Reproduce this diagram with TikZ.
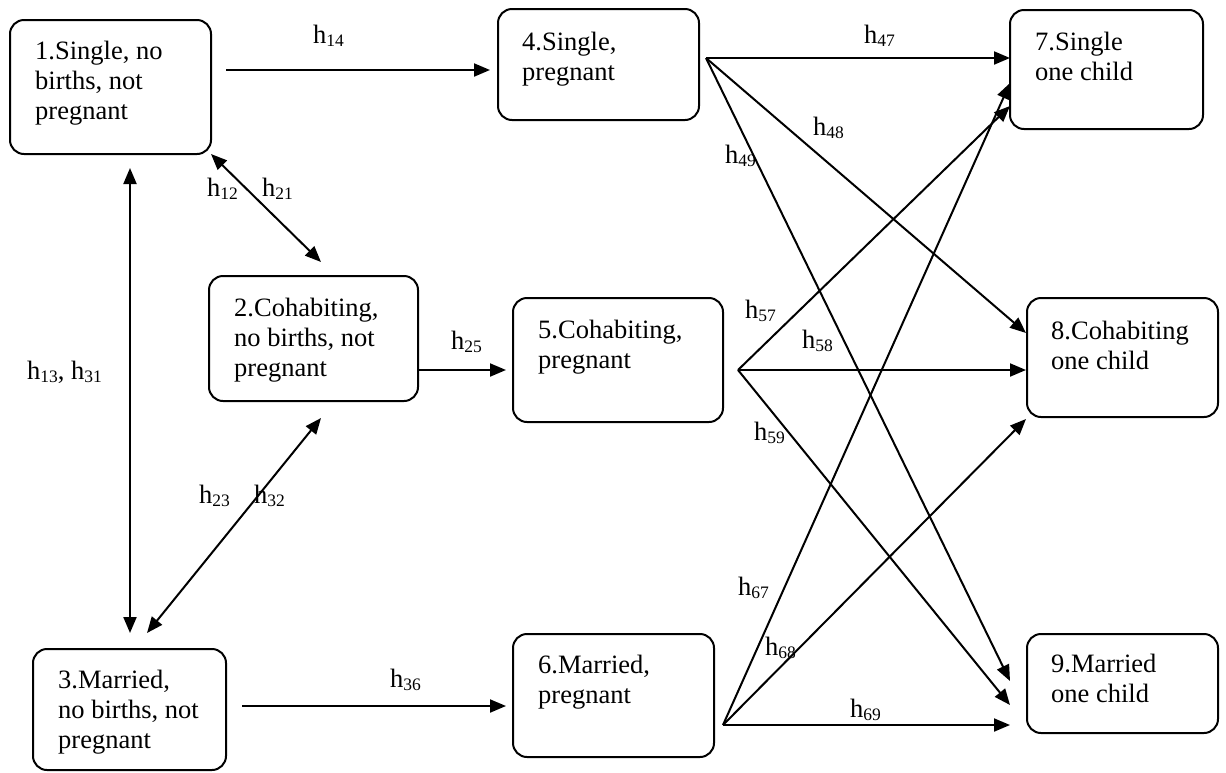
\documentclass[tikz,border=0pt]{standalone}
\usepackage{fontspec}
\setmainfont{Liberation Serif}
\usetikzlibrary{arrows.meta}
\newcommand\hsub[1]{h\raisebox{-3.5pt}{\fontsize{17.5}{17.5}\selectfont #1}}
\begin{document}
\begin{tikzpicture}[x=1pt,y=-1pt,
  box/.style={draw,line width=2pt,rounded corners=14pt,inner sep=0pt,outer sep=0pt},
  txt/.style={anchor=base west,align=left,inner sep=0pt,font=\fontsize{26.5}{30}\selectfont},
  lab/.style={anchor=base west,inner sep=0pt,font=\fontsize{26.5}{30}\selectfont},
  arr/.style={line width=2pt,-{Triangle[length=16pt,width=13pt]}},
  darr/.style={line width=2pt,{Triangle[length=16pt,width=13pt]}-{Triangle[length=16pt,width=13pt]}}]
\useasboundingbox (0,0) rectangle (1226,772);
% boxes
\node[box,minimum width=201pt,minimum height=134pt] (b1) at (110.5,87) {};
\node[box,minimum width=209pt,minimum height=125pt] (b2) at (313.5,338.5) {};
\node[box,minimum width=193pt,minimum height=121pt] (b3) at (129.5,709.5) {};
\node[box,minimum width=201pt,minimum height=111pt] (b4) at (598.5,64.5) {};
\node[box,minimum width=210pt,minimum height=124pt] (b5) at (618,360) {};
\node[box,minimum width=201pt,minimum height=123pt] (b6) at (613.5,695.5) {};
\node[box,minimum width=193pt,minimum height=119pt] (b7) at (1106.5,69.5) {};
\node[box,minimum width=191pt,minimum height=119pt] (b8) at (1122.5,357.5) {};
\node[box,minimum width=191pt,minimum height=99pt] (b9) at (1122.5,683.5) {};
% box texts (anchor = baseline of the last line)
\node[txt] (t1) at (35,119) {1.Single, no\\births, not\\pregnant};
\node[txt] (t2) at (234,376) {2.Cohabiting,\\no births, not\\pregnant};
\node[txt] (t3) at (58,748) {3.Married,\\no births, not\\pregnant};
\node[txt] (t4) at (522,80) {4.Single,\\pregnant};
\node[txt] (t5) at (538,368) {5.Cohabiting,\\pregnant};
\node[txt] (t6) at (538,703) {6.Married,\\pregnant};
\node[txt] (t7) at (1035,80) {7.Single\\one child};
\node[txt] (t8) at (1051,369) {8.Cohabiting\\one child};
\node[txt] (t9) at (1051,702) {9.Married\\one child};
% origin points
\coordinate (o4) at ([shift={(7,-6.5)}]b4.east);
\coordinate (o5) at ([shift={(15,10)}]b5.east);
\coordinate (o6) at ([shift={(9,29.5)}]b6.east);
% connectors
\draw[arr] ([shift={(15,-17)}]b1.east) -- ([shift={(-8,5.5)}]b4.west);
\draw[darr] ([shift={(19.5,14)}]b1.south) -- ([shift={(0.5,-16)}]b3.north);
\draw[darr] (b1.south east) -- ([shift={(7.5,-14)}]b2.north);
\draw[darr] ([shift={(7.5,17)}]b2.south) -- ([shift={(17.5,-16)}]b3.north);
\draw[arr] ([shift={(0,31.5)}]b2.east) -- ([shift={(-7,10)}]b5.west);
\draw[arr] ([shift={(16,-3.5)}]b3.east) -- ([shift={(-7,10.5)}]b6.west);
\draw[arr] (o4) -- ([shift={(0,-11.5)}]b7.west);
\draw[arr] (o4) -- ([shift={(-1,-24.5)}]b8.west);
\draw[arr] (o4) -- ([shift={(-17,-2.5)}]b9.west);
\draw[arr] (o5) -- ([shift={(0,36.5)}]b7.west);
\draw[arr] (o5) -- ([shift={(-1,12.5)}]b8.west);
\draw[arr] (o5) -- ([shift={(-17,21.5)}]b9.west);
\draw[arr] (o6) -- ([shift={(0,13.5)}]b7.west);
\draw[arr] (o6) -- ([shift={(-1,2)}]b8.south west);
\draw[arr] (o6) -- ([shift={(-17,41.5)}]b9.west);
% labels
\node[lab] (l14) at (313,43) {\hsub{14}};
\node[lab] (l47) at (864,43) {\hsub{47}};
\node[lab] (l48) at (813,135) {\hsub{48}};
\node[lab] (l49) at (725,163) {\hsub{49}};
\node[lab] (l12) at (207,196) {\hsub{12}};
\node[lab] (l21) at (262,196) {\hsub{21}};
\node[lab] (l13) at (27,379) {\hsub{13}, \hsub{31}};
\node[lab] (l23) at (199,503) {\hsub{23}};
\node[lab] (l32) at (254,503) {\hsub{32}};
\node[lab] (l25) at (451,349) {\hsub{25}};
\node[lab] (l36) at (390,687) {\hsub{36}};
\node[lab] (l57) at (745,318) {\hsub{57}};
\node[lab] (l58) at (802,348) {\hsub{58}};
\node[lab] (l59) at (754,440) {\hsub{59}};
\node[lab] (l67) at (738,595) {\hsub{67}};
\node[lab] (l68) at (765,655) {\hsub{68}};
\node[lab] (l69) at (850,717) {\hsub{69}};
\end{tikzpicture}
\end{document}
